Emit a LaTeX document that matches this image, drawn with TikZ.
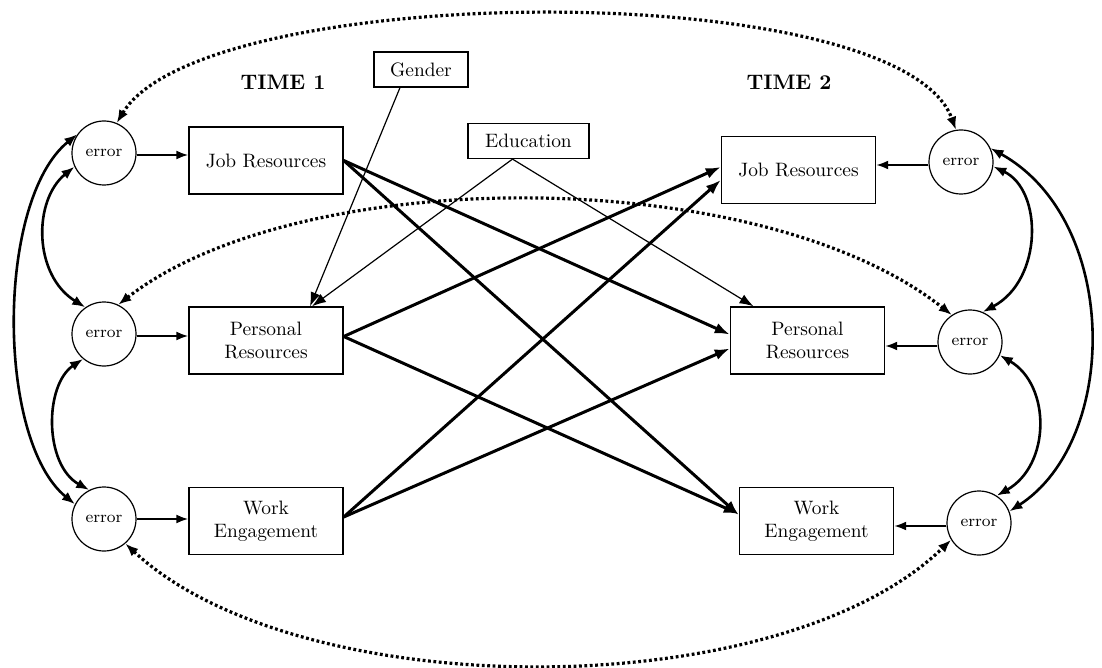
\documentclass[tikz,border=0pt]{standalone}
\usetikzlibrary{arrows.meta,calc}
\begin{document}
\begin{tikzpicture}[x=0.5pt,y=-0.5pt,
  err/.style={circle, draw, line width=0.6pt, minimum size=32pt, inner sep=0pt, font=\fontsize{8.2}{9}\selectfont},
  var/.style={rectangle, draw, line width=0.7pt, minimum width=77pt, minimum height=33.5pt, inner sep=1pt, align=center, font=\fontsize{9.7}{11.5}\selectfont},
  cov/.style={rectangle, draw, line width=0.6pt, minimum height=17.5pt, inner sep=1pt, font=\fontsize{9.7}{11.5}\selectfont},
  ttl/.style={font=\fontsize{10.5}{12}\selectfont\bfseries},
  thickpath/.style={line width=1.5pt, -{Latex[length=7.5pt,width=5.5pt]}},
  thinpath/.style={line width=0.6pt, -{Latex[length=7pt,width=5pt]}},
  epath/.style={line width=1pt, -{Latex[length=6pt,width=4.5pt]}},
  corr/.style={line width=1.3pt, {Latex[length=6.5pt,width=5pt]}-{Latex[length=6.5pt,width=5pt]}},
  dotcorr/.style={line width=1.6pt, dash pattern=on 1.4pt off 1.3pt, {Latex[length=6.5pt,width=5pt]}-{Latex[length=6.5pt,width=5pt]}}
]
\useasboundingbox (0,0) rectangle (1102,668);

% titles
\node[ttl] (t1) at (283,82) {TIME 1};
\node[ttl] (t2) at (789,82) {TIME 2};

% covariates
\node[cov, minimum width=47pt] (gender) at (421,69.5) {Gender};
\node[cov, minimum width=60.5pt] (edu) at (528.5,141) {Education};

% time 1
\node[err] (eL1) at (104,153) {error};
\node[err] (eL2) at (104,334) {error};
\node[err] (eL3) at (104,519) {error};
\node[var] (JR1) at (266,160.5) {Job Resources};
\node[var] (PR1) at (266,340.5) {Personal\\Resources};
\node[var] (WE1) at (266,521) {Work\\Engagement};

% time 2
\node[err] (eR1) at (961,162) {error};
\node[err] (eR2) at (970,342) {error};
\node[err] (eR3) at (979,523) {error};
\node[var] (JR2) at (798.5,170) {Job Resources};
\node[var] (PR2) at (807.5,340.5) {Personal\\Resources};
\node[var] (WE2) at (816.5,521) {Work\\Engagement};

% error -> variables
\draw[epath] ($(eL1.east)+(0,2)$) -- ($(eL1.east -| JR1.west)+(0,2)$);
\draw[epath] ($(eL2.east)+(0,2)$) -- ($(eL2.east -| PR1.west)+(0,2)$);
\draw[epath] (eL3.east) -- (eL3.east -| WE1.west);
\draw[epath] ($(eR1.west)+(0,3)$) -- ($(eR1.west -| JR2.east)+(0,3)$);
\draw[epath] ($(eR2.west)+(0,4)$) -- ($(eR2.west -| PR2.east)+(0,4)$);
\draw[epath] ($(eR3.west)+(0,3)$) -- ($(eR3.west -| WE2.east)+(0,3)$);

% covariate paths
\coordinate (gs) at ($(gender.south)+(-21,0)$);
\coordinate (es) at ($(edu.south)+(-16,0)$);
\draw[thinpath] (gs) -- ($(PR1.north)+(44,0)$);
\draw[thinpath] (es) -- ($(PR1.north)+(46,0)$);
\draw[thinpath] (es) -- ($(PR2.north)+(-54,0)$);

% cross-lagged paths
\draw[thickpath] (JR1.east) -- ($(PR2.west)+(0,-6)$);
\draw[thickpath] (JR1.east) -- ($(WE2.west)+(0,-6)$);
\draw[thickpath] ($(PR1.east)+(0,-4)$) -- ($(JR2.west)+(0,-3)$);
\draw[thickpath] ($(PR1.east)+(0,-4)$) -- ($(WE2.west)+(0,-7)$);
\draw[thickpath] ($(WE1.east)+(0,-4)$) -- ($(JR2.west)+(0,10)$);
\draw[thickpath] ($(WE1.east)+(0,-4)$) -- ($(PR2.west)+(0,8)$);

% within-time correlations, left
\draw[corr] (eL1.205) .. controls (33,200) and (33,275) .. (eL2.125);
\draw[corr] (eL2.230) .. controls (44,385) and (44,465) .. (eL3.117);
\draw[corr] (eL1.145) .. controls (-4,200) and (-4,440) .. (eL3.153);

% within-time correlations, right
\draw[corr] (eR1.352) .. controls (1043,190) and (1043,280) .. (eR2.67);
\draw[corr] (eR2.336) .. controls (1051,385) and (1051,465) .. (eR3.57);
\draw[corr] (eR1.25) .. controls (1120,220) and (1120,440) .. (eR3.21);

% stability error correlations (dotted)
\draw[dotcorr] (eL1.67) .. controls (203,-20) and (900,-25) .. (eR1.99);
\draw[dotcorr] (eL2.64) .. controls (300,163) and (760,163) .. (eR2.124);
\draw[dotcorr] (eL3.311) .. controls (300,706) and (780,706) .. (eR3.211);
\end{tikzpicture}
\end{document}
